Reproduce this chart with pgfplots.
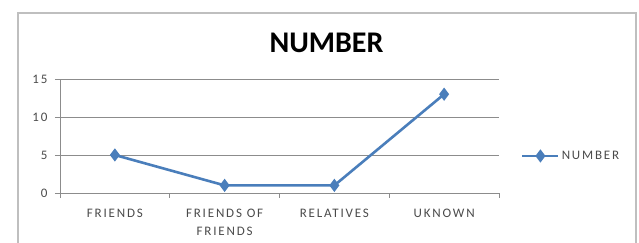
\documentclass[border=0pt]{standalone}
\usepackage{fontspec}
\setmainfont{Carlito}
\newfontfamily\lab[LetterSpace=14]{Carlito}
\usepackage{pgfplots}
\pgfplotsset{compat=1.18}
\definecolor{xblue}{HTML}{4A7EBB}
\definecolor{xgrid}{HTML}{8C8C8C}
\definecolor{xframe}{HTML}{BFBFBF}
\definecolor{xtext}{HTML}{4A4A4A}
\begin{document}
\begin{tikzpicture}[x=1pt,y=1pt]
\useasboundingbox (0,0) rectangle (639,243);
\clip (0,0) rectangle (639,243);
\draw[xframe, line width=1.3pt] (18,-10) rectangle (636,230);
\begin{axis}[
  at={(60pt,50pt)}, anchor=south west, scale only axis,
  width=439pt, height=114pt,
  xmin=0.5, xmax=4.5, ymin=0, ymax=15,
  ytick={0,5,10,15},
  xtick={1,2,3,4},
  xticklabels={FRIENDS, FRIENDS OF\\FRIENDS, RELATIVES, UKNOWN},
  minor xtick={0.5,1.5,2.5,3.5,4.5},
  major x tick style={draw=none},
  minor x tick style={xgrid, line width=0.8pt},
  major y tick style={xgrid, line width=0.8pt},
  major tick length=5pt, minor tick length=5pt,
  tick align=outside,
  axis x line*=bottom, axis y line*=left,
  axis line style={xgrid, line width=0.8pt},
  ymajorgrids, grid style={xgrid, line width=0.8pt},
  /pgf/number format/assume math mode=true,
  yticklabel style={font=\lab\fontsize{13}{13}\selectfont, text=xtext, xshift=-4pt},
  xticklabel style={font=\lab\fontsize{13}{18}\selectfont, text=xtext, align=center, yshift=-8pt},
  title={NUMBER},
  title style={font=\bfseries\fontsize{30}{30}\selectfont, at={(0.607,1.178)}, anchor=base},
  legend style={at={(1.05,0.325)}, anchor=west, draw=none, fill=none,
    font=\lab\fontsize{13}{13}\selectfont, text=xtext, inner sep=0pt,
    /tikz/every even column/.append style={column sep=0pt}},
  legend image code/.code={\draw[mark repeat=2,mark phase=2,#1] plot coordinates {(0pt,0pt) (18pt,0pt) (36pt,0pt)};},
  clip=false,
]
\addplot[color=xblue, line width=2.6pt, mark=diamond*, mark size=4.5pt, mark options={solid}]
  coordinates {(1,5) (2,1) (3,1) (4,13)};
\addlegendentry{NUMBER}
\end{axis}
\end{tikzpicture}
\end{document}
